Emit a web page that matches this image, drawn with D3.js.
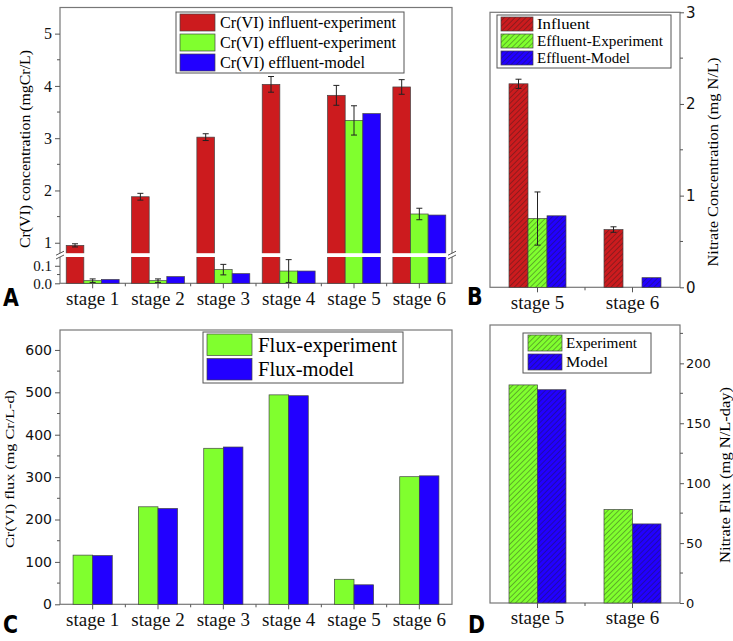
<!DOCTYPE html>
<html>
<head>
<meta charset="utf-8">
<script src="https://cdn.jsdelivr.net/npm/d3@7"></script>
<style>
  body { margin: 0; background: #fff; }
  svg { display: block; }
</style>
</head>
<body>
<svg id="chart" width="733" height="641"></svg>
<script>
// ---- data ----
const stages = ["stage 1", "stage 2", "stage 3", "stage 4", "stage 5", "stage 6"];
const crInfluent = [0.95, 1.88, 3.02, 4.03, 3.82, 3.98];
const crInfluentErr = [0.03, 0.065, 0.065, 0.15, 0.19, 0.14];
const crEffluentExp = [0.015, 0.015, 0.078, 0.07, 3.34, 1.55];
const crEffluentExpErr = [0.01, 0.01, 0.03, 0.065, 0.28, 0.11];
const crEffluentModel = [0.022, 0.038, 0.055, 0.07, 3.47, 1.53];

const nitStages = ["stage 5", "stage 6"];
const nitInfluent = [2.22, 0.63];
const nitInfluentErr = [0.05, 0.03];
const nitEffluentExp = [0.75, null];
const nitEffluentExpErr = [0.29, 0];
const nitEffluentModel = [0.78, 0.105];

const fluxExp = [116, 230, 368, 494, 59, 301];
const fluxModel = [115, 226, 371, 492, 46, 303];

const nitFluxExp = [182, 78];
const nitFluxModel = [178, 66];

// ---- look ----
const RED = '#cc1b1e', GREEN = '#80ff2e', BLUE = '#2200ff';
const serif = '"Liberation Serif", "Times New Roman", serif';
const sans = '"DejaVu Sans", "Liberation Sans", sans-serif';
const FRAME = '#777';

const svg = d3.select('#chart');
const defs = svg.append('defs');

// diagonal hatch fill ("///")
function hatch(id, color) {
    const s = 3.8;
    const p = defs.append('pattern')
        .attr('id', id)
        .attr('patternUnits', 'userSpaceOnUse')
        .attr('width', s).attr('height', s)
        .attr('patternTransform', 'rotate(45)');
    p.append('rect').attr('width', s).attr('height', s).attr('fill', color);
    p.append('line')
        .attr('x1', 0).attr('y1', 0).attr('x2', 0).attr('y2', s)
        .attr('stroke', '#1a1a1a').attr('stroke-width', 1).attr('opacity', 0.7);
    return `url(#${id})`;
}
const RED_H = hatch('hRed', RED);
const GREEN_H = hatch('hGreen', GREEN);
const BLUE_H = hatch('hBlue', BLUE);

function frame(x0, y0, x1, y1) {
    svg.append('rect')
        .attr('x', x0).attr('y', y0)
        .attr('width', x1 - x0).attr('height', y1 - y0)
        .attr('fill', 'none').attr('stroke', FRAME).attr('stroke-width', 1.2);
}

function styleAxis(g, font, size) {
    g.select('.domain').remove();
    g.attr('font-family', null).attr('font-size', null);
    g.selectAll('line').attr('stroke', '#555').attr('stroke-width', 1);
    g.selectAll('text')
        .style('font-family', font).style('font-size', size + 'px')
        .attr('fill', '#111');
}

function minorTicks(vals, scale, x, dir, len) {
    svg.append('g').selectAll('line').data(vals).enter().append('line')
        .attr('x1', x).attr('x2', x + dir * len)
        .attr('y1', d => scale(d)).attr('y2', d => scale(d))
        .attr('stroke', '#555');
}

function xAxis(x, y0) {
    const g = svg.append('g').attr('transform', `translate(0,${y0})`)
        .call(d3.axisBottom(x).tickSize(5).tickSizeOuter(0).tickPadding(3));
    styleAxis(g, serif, 19);
    // minor ticks at group boundaries
    const bounds = x.domain().slice(1).map(d => x(d) - x.step() * x.paddingInner() / 2);
    svg.append('g').selectAll('line').data(bounds).enter().append('line')
        .attr('x1', d => d).attr('x2', d => d)
        .attr('y1', y0).attr('y2', y0 + 3)
        .attr('stroke', '#555');
}

function bars(x, sub, y, y0, values, fill, key) {
    svg.append('g').selectAll('rect')
        .data(values.map((v, i) => ({ v, s: x.domain()[i] })).filter(d => d.v != null))
        .enter().append('rect')
        .attr('x', d => x(d.s) + sub(key))
        .attr('width', sub.bandwidth())
        .attr('y', d => y(d.v))
        .attr('height', d => y0 - y(d.v))
        .attr('fill', fill)
        .attr('stroke', '#444').attr('stroke-width', 0.7);
}

function errBars(x, sub, y, values, errs, key, floor) {
    const data = values.map((v, i) => ({ v, e: errs[i], s: x.domain()[i] }))
        .filter(d => d.v != null && d.e > 0);
    const g = svg.append('g');
    data.forEach(d => {
        const cx = x(d.s) + sub(key) + sub.bandwidth() / 2;
        const lo = Math.max(d.v - d.e, floor), hi = d.v + d.e;
        g.append('line').attr('x1', cx).attr('x2', cx).attr('y1', y(lo)).attr('y2', y(hi))
            .attr('stroke', '#222').attr('stroke-width', 1);
        [lo, hi].forEach(t => {
            if (t === floor) return;
            g.append('line').attr('x1', cx - 3).attr('x2', cx + 3).attr('y1', y(t)).attr('y2', y(t))
                .attr('stroke', '#222').attr('stroke-width', 1);
        });
    });
}

function legend(x0, y0, w, h, items, opt) {
    svg.append('rect').attr('x', x0).attr('y', y0).attr('width', w).attr('height', h)
        .attr('fill', '#fff').attr('stroke', '#555').attr('stroke-width', 1);
    items.forEach((it, i) => {
        const ry = y0 + opt.pad + i * opt.rowH;
        svg.append('rect')
            .attr('x', x0 + opt.sx).attr('y', ry)
            .attr('width', opt.sw).attr('height', opt.rowH - 3)
            .attr('fill', it.fill).attr('stroke', '#444').attr('stroke-width', 0.7);
        svg.append('text')
            .attr('x', x0 + opt.tx).attr('y', ry + (opt.rowH - 3) / 2)
            .attr('dy', '0.36em')
            .attr('font-family', serif).attr('font-size', opt.font)
            .attr('textLength', it.len).attr('lengthAdjust', 'spacingAndGlyphs')
            .text(it.label);
    });
}

function yLabel(text, cx, cy, size, len) {
    svg.append('text')
        .attr('transform', `translate(${cx},${cy}) rotate(-90)`)
        .attr('text-anchor', 'middle').attr('dy', '0.35em')
        .attr('font-family', serif).attr('font-size', size)
        .attr('textLength', len).attr('lengthAdjust', 'spacingAndGlyphs')
        .text(text);
}

function panelLetter(t, x, y) {
    svg.append('text')
        .attr('transform', `translate(${x},${y}) scale(0.82,1)`)
        .attr('font-family', sans).attr('font-weight', 'bold').attr('font-size', 25)
        .text(t);
}

// ================= A: Cr(VI) concentration (broken axis) =================
{
    const L = 60, R = 452, T = 7.5, B = 283.3;
    const x = d3.scaleBand().domain(stages).range([L, R]).paddingInner(0.19).paddingOuter(0.095);
    const sub = d3.scaleBand().domain([0, 1, 2]).range([0, x.bandwidth()]);
    const yLow = d3.scaleLinear().domain([0, 0.15]).range([B, 257]);
    const yHigh = d3.scaleLinear().domain([0.8, 5.5]).range([253.2, T]);
    const y = v => v <= 0.15 ? yLow(v) : (v >= 0.8 ? yHigh(v) : 257);

    frame(L, T, R, B);
    bars(x, sub, y, B, crInfluent, RED, 0);
    bars(x, sub, y, B, crEffluentExp, GREEN, 1);
    bars(x, sub, y, B, crEffluentModel, BLUE, 2);
    errBars(x, sub, y, crInfluent, crInfluentErr, 0, 0);
    errBars(x, sub, y, crEffluentExp, crEffluentExpErr, 1, 0);

    // axis break
    svg.append('rect').attr('x', L - 6).attr('y', 253.2).attr('width', R - L + 12).attr('height', 3.8).attr('fill', '#fff');
    [L, R].forEach(bx => [253.2, 257].forEach(by => {
        svg.append('line').attr('x1', bx - 4).attr('x2', bx + 4).attr('y1', by + 2).attr('y2', by - 2)
            .attr('stroke', '#555').attr('stroke-width', 1);
    }));

    const gHigh = svg.append('g').attr('transform', `translate(${L},0)`)
        .call(d3.axisLeft(yHigh).tickValues([1, 2, 3, 4, 5]).tickFormat(d3.format('d')).tickSize(5).tickPadding(3));
    styleAxis(gHigh, serif, 16);
    minorTicks([1.5, 2.5, 3.5, 4.5], yHigh, L, -1, 3);
    const gLow = svg.append('g').attr('transform', `translate(${L},0)`)
        .call(d3.axisLeft(yLow).tickValues([0, 0.1]).tickFormat(d3.format('.1f')).tickSize(5).tickPadding(3));
    styleAxis(gLow, serif, 15);
    minorTicks([0.05], yLow, L, -1, 3);

    xAxis(x, B);

    legend(176, 12, 228, 61, [
        { label: 'Cr(VI) influent-experiment', fill: RED, len: 176 },
        { label: 'Cr(VI) effluent-experiment', fill: GREEN, len: 176 },
        { label: 'Cr(VI) effluent-model', fill: BLUE, len: 145 }
    ], { pad: 2, rowH: 20, sx: 4, sw: 35, tx: 44, font: 16 });

    yLabel('Cr(VI) concentration (mgCr/L)', 25, 149, 15, 198);
    panelLetter('A', 3, 306);
}

// ================= B: nitrate concentration =================
{
    const L = 490, R = 680, T = 12.3, B = 287.3;
    const x = d3.scaleBand().domain(nitStages).range([L, R]).paddingInner(0.4).paddingOuter(0.2);
    const sub = d3.scaleBand().domain([0, 1, 2]).range([0, x.bandwidth()]);
    const y = d3.scaleLinear().domain([0, 3]).range([B, T]);

    frame(L, T, R, B);
    bars(x, sub, y, B, nitInfluent, RED_H, 0);
    bars(x, sub, y, B, nitEffluentExp, GREEN_H, 1);
    bars(x, sub, y, B, nitEffluentModel, BLUE_H, 2);
    errBars(x, sub, y, nitInfluent, nitInfluentErr, 0, 0);
    errBars(x, sub, y, nitEffluentExp, nitEffluentExpErr, 1, 0);

    const g = svg.append('g').attr('transform', `translate(${R},0)`)
        .call(d3.axisRight(y).tickValues([0, 1, 2, 3]).tickFormat(d3.format('d')).tickSize(4).tickPadding(2));
    styleAxis(g, sans, 15);
    minorTicks([0.5, 1.5, 2.5], y, R, 1, 3);

    xAxis(x, B);

    legend(497, 15, 174, 53, [
        { label: 'Influent', fill: RED_H, len: 53 },
        { label: 'Effluent-Experiment', fill: GREEN_H, len: 126 },
        { label: 'Effluent-Model', fill: BLUE_H, len: 93 }
    ], { pad: 2, rowH: 17, sx: 4, sw: 32, tx: 40, font: 14 });

    yLabel('Nitrate Concentration (mg N/L)', 713, 162, 15, 209);
    panelLetter('B', 467, 305);
}

// ================= C: Cr(VI) flux =================
{
    const L = 60, R = 452, T = 330, B = 604.3;
    const x = d3.scaleBand().domain(stages).range([L, R]).paddingInner(0.4).paddingOuter(0.2);
    const sub = d3.scaleBand().domain([0, 1]).range([0, x.bandwidth()]);
    const y = d3.scaleLinear().domain([0, 647]).range([B, T]);

    frame(L, T, R, B);
    bars(x, sub, y, B, fluxExp, GREEN, 0);
    bars(x, sub, y, B, fluxModel, BLUE, 1);

    const g = svg.append('g').attr('transform', `translate(${L},0)`)
        .call(d3.axisLeft(y).tickValues(d3.range(0, 601, 100)).tickSize(5).tickPadding(3));
    styleAxis(g, sans, 14);
    minorTicks(d3.range(50, 600, 100), y, L, -1, 3);

    xAxis(x, B);

    legend(203, 332, 200, 51, [
        { label: 'Flux-experiment', fill: GREEN, len: 139 },
        { label: 'Flux-model', fill: BLUE, len: 96 }
    ], { pad: 2, rowH: 24.5, sx: 4, sw: 45, tx: 55, font: 20 });

    yLabel('Cr(VI) flux (mg Cr/L-d)', 9, 469, 13, 158);
    panelLetter('C', 3, 633);
}

// ================= D: nitrate flux =================
{
    const L = 490, R = 680, T = 325, B = 603;
    const x = d3.scaleBand().domain(nitStages).range([L, R]).paddingInner(0.4).paddingOuter(0.2);
    const sub = d3.scaleBand().domain([0, 1]).range([0, x.bandwidth()]);
    const y = d3.scaleLinear().domain([0, 232]).range([B, T]);

    frame(L, T, R, B);
    bars(x, sub, y, B, nitFluxExp, GREEN_H, 0);
    bars(x, sub, y, B, nitFluxModel, BLUE_H, 1);

    const g = svg.append('g').attr('transform', `translate(${R},0)`)
        .call(d3.axisRight(y).tickValues([0, 50, 100, 150, 200]).tickSize(4).tickPadding(2));
    styleAxis(g, sans, 13);
    minorTicks([25, 75, 125, 175, 225], y, R, 1, 3);

    xAxis(x, B);

    legend(523, 333, 128, 40, [
        { label: 'Experiment', fill: GREEN_H, len: 71 },
        { label: 'Model', fill: BLUE_H, len: 42 }
    ], { pad: 2, rowH: 19, sx: 5, sw: 34, tx: 43, font: 14 });

    yLabel('Nitrate Flux (mg N/L-day)', 725, 475, 15, 176);
    panelLetter('D', 468, 633);
}
</script>
</body>
</html>
